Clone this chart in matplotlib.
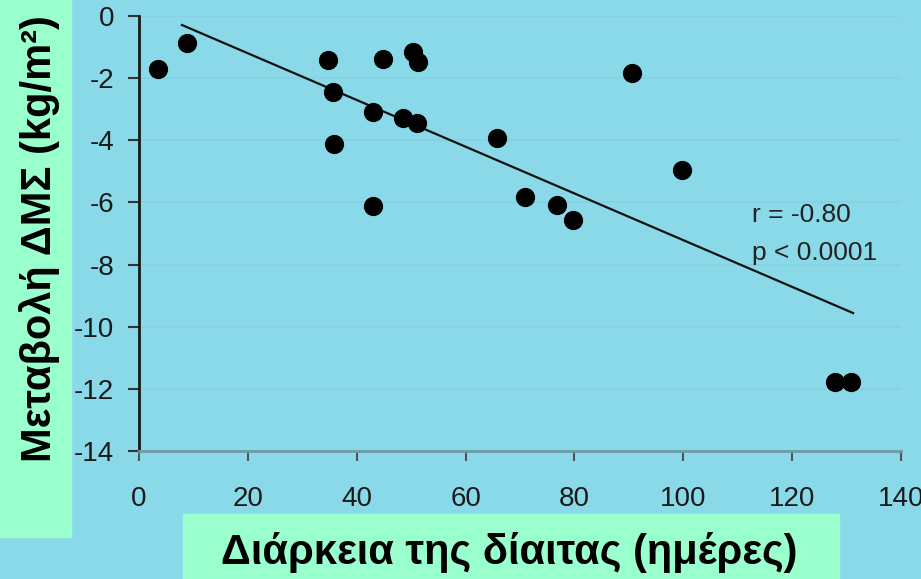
import matplotlib
matplotlib.use("Agg")
import matplotlib.pyplot as plt
from matplotlib.patches import Rectangle

# diet duration (days) vs change in BMI (kg/m2)
days = [3.5, 8.8, 34.7, 35.6, 35.8, 43.0, 43.0, 44.8, 48.5, 50.3,
        51.3, 51.1, 65.8, 70.9, 76.8, 79.7, 90.6, 99.8, 127.9, 130.8]
bmi_change = [-1.71, -0.87, -1.42, -2.45, -4.12, -3.09, -6.12, -1.38, -3.28, -1.16,
              -1.48, -3.44, -3.93, -5.83, -6.08, -6.57, -1.83, -4.96, -11.78, -11.78]

# regression line end points
fit_x = [7.9, 131.2]
fit_y = [-0.29, -9.56]

x_ticks = [0, 20, 40, 60, 80, 100, 120, 140]
y_ticks = [0, -2, -4, -6, -8, -10, -12, -14]

bg = "#89d9e9"
green = "#99ffcc"
tick_font = ["Liberation Sans", "DejaVu Sans"]
label_font = ["Liberation Sans", "DejaVu Sans"]

plt.rcParams["axes.unicode_minus"] = False

fig = plt.figure(figsize=(9.21, 5.79), dpi=100, facecolor=bg)

# green panels behind the axis titles
fig.patches.append(Rectangle((0, 1 - 537 / 579), 71 / 921, 537 / 579,
                             transform=fig.transFigure, color=green, zorder=0))
fig.patches.append(Rectangle((183 / 921, 0), 656 / 921, 65 / 579,
                             transform=fig.transFigure, color=green, zorder=0))

ax = fig.add_axes([139 / 921, 1 - 451 / 579, 762 / 921, 435 / 579])
ax.set_facecolor(bg)
ax.set_xlim(0, 140)
ax.set_ylim(-14, 0)

ax.scatter(days, bmi_change, s=165, color="black", zorder=3, clip_on=False)
ax.plot(fit_x, fit_y, color="#111111", lw=1.6, zorder=2)

ax.text(112.6, -6.4, "r = -0.80", fontsize=19, color="#222222",
        family=tick_font, va="center", ha="left")
ax.text(112.6, -7.63, "p < 0.0001", fontsize=19, color="#222222",
        family=tick_font, va="center", ha="left")

ax.set_xticks(x_ticks)
ax.set_xticklabels([str(v) for v in x_ticks])
ax.set_yticks(y_ticks)
ax.set_yticklabels([str(v) for v in y_ticks])
for lab in ax.get_xticklabels() + ax.get_yticklabels():
    lab.set_family(tick_font)
    lab.set_fontsize(20)
    lab.set_color("#1a1a1a")

ax.tick_params(axis="x", length=7, width=1.5, color="#555555", pad=18)
ax.tick_params(axis="y", length=8, width=1.5, color="#333333", pad=10)

ax.yaxis.grid(True, color="#83d1e1", lw=1.2)
ax.set_axisbelow(True)

for side in ["top", "right"]:
    ax.spines[side].set_visible(False)
ax.spines["left"].set_color("#1a1a1a")
ax.spines["left"].set_linewidth(2)
ax.spines["bottom"].set_color("#6f9aa6")
ax.spines["bottom"].set_linewidth(2)

fig.text(60 / 921, 1 - 239 / 579, "Μεταβολή ΔΜΣ (kg/m²)", rotation=90,
         fontsize=30, fontweight="bold", family=label_font,
         ha="right", va="center")
fig.text(509 / 921, 1 - 564 / 579, "Διάρκεια της δίαιτας (ημέρες)",
         fontsize=30, fontweight="bold", family=label_font,
         ha="center", va="baseline")

fig.savefig("out.png", dpi=100, facecolor=bg)
